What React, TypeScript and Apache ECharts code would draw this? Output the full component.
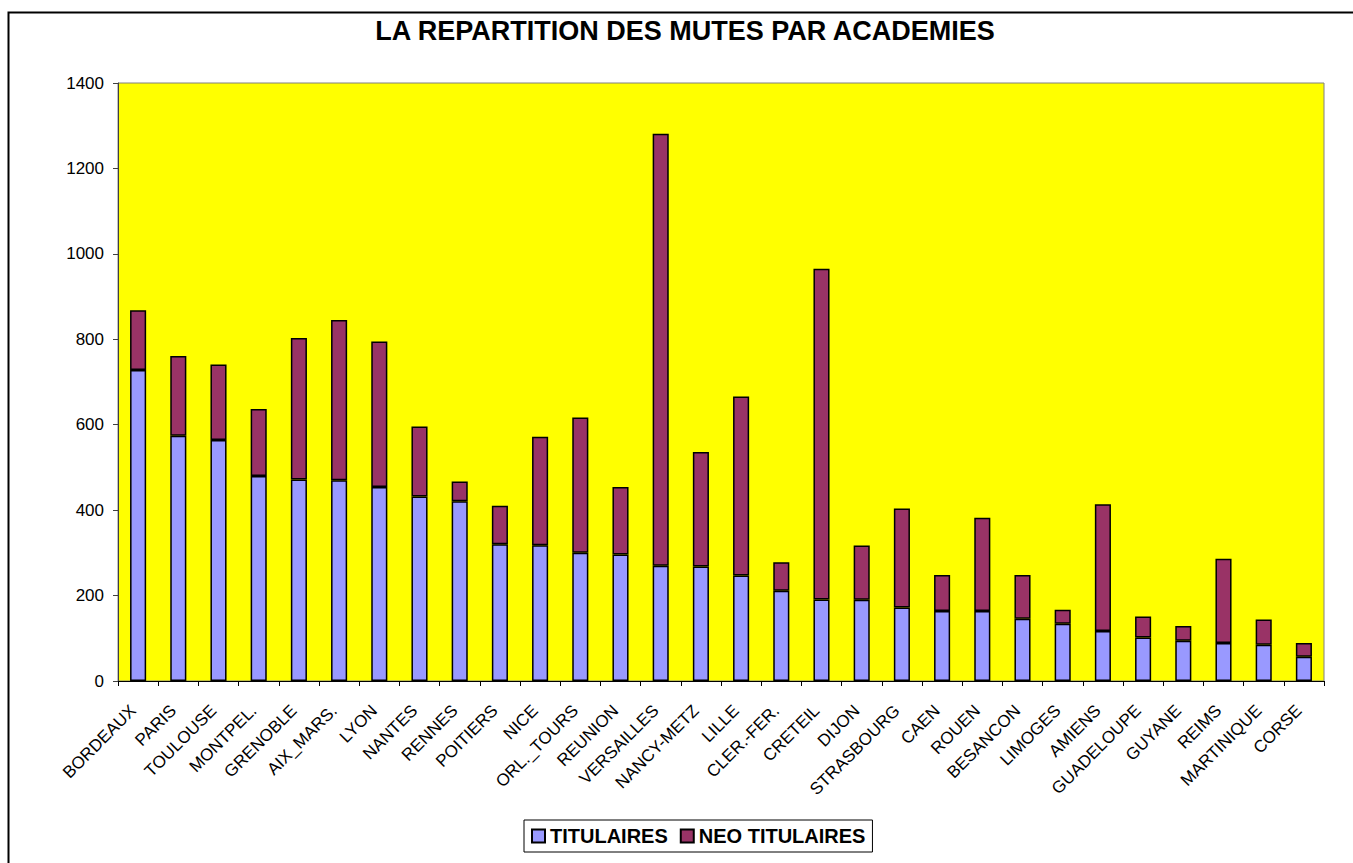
import React, { useEffect, useRef } from "react";
import * as echarts from "echarts";

const categories = [
  "BORDEAUX", "PARIS", "TOULOUSE", "MONTPEL.", "GRENOBLE", "AIX_MARS.", "LYON", "NANTES",
  "RENNES", "POITIERS", "NICE", "ORL._TOURS", "REUNION", "VERSAILLES", "NANCY-METZ", "LILLE",
  "CLER.-FER.", "CRETEIL", "DIJON", "STRASBOURG", "CAEN", "ROUEN", "BESANCON", "LIMOGES",
  "AMIENS", "GUADELOUPE", "GUYANE", "REIMS", "MARTINIQUE", "CORSE",
];

const titulaires = [
  728, 574, 564, 480, 472, 470, 454, 432, 421, 320, 318, 300, 296, 270, 268, 247,
  211, 191, 190, 172, 164, 164, 146, 134, 117, 102, 94, 89, 85, 57,
];

const neoTitulaires = [
  140, 187, 177, 157, 331, 375, 341, 164, 46, 90, 254, 317, 158, 1011, 268, 419,
  67, 774, 127, 232, 84, 218, 102, 33, 297, 49, 35, 197, 59, 32,
];

const seriesNames = ["TITULAIRES", "NEO TITULAIRES"];
const chartTitle = "LA REPARTITION DES MUTES PAR ACADEMIES";

const FONT = "'Liberation Sans', Arial, sans-serif";

export default function App() {
  const ref = useRef<HTMLDivElement>(null);

  useEffect(() => {
    if (!ref.current) return;
    const chart = echarts.init(ref.current, null, { renderer: "svg" });
    chart.setOption({
      animation: false,
      backgroundColor: "#ffffff",
      textStyle: { fontFamily: FONT },
      graphic: [
        {
          type: "rect",
          silent: true,
          shape: { x: 8.5, y: 12.5, width: 1500, height: 1000 },
          style: { fill: "none", stroke: "#000000", lineWidth: 2 },
          z: 100,
        },
        {
          type: "text",
          x: 685,
          y: 31,
          style: {
            text: chartTitle,
            fontFamily: FONT,
            fontSize: 27,
            fontWeight: "bold",
            fill: "#000000",
            textAlign: "center",
            textVerticalAlign: "middle",
          },
        },
      ],
      legend: {
        left: 524,
        top: 820,
        orient: "horizontal",
        icon: "rect",
        itemWidth: 13,
        itemHeight: 13,
        itemGap: 12,
        padding: [6, 7],
        borderColor: "#000000",
        borderWidth: 1,
        backgroundColor: "#ffffff",
        textStyle: { fontFamily: FONT, fontSize: 20, fontWeight: "bold", color: "#000000" },
        data: seriesNames,
      },
      grid: {
        left: 118,
        right: 29,
        top: 83,
        bottom: 182,
        show: true,
        backgroundColor: "#ffff00",
        borderColor: "#808080",
        borderWidth: 1,
      },
      xAxis: {
        type: "category",
        data: categories,
        axisLine: { show: true, lineStyle: { color: "#000000", width: 1 } },
        axisTick: { show: true, length: 5, alignWithLabel: false, lineStyle: { color: "#000000" } },
        axisLabel: {
          interval: 0,
          rotate: 45,
          margin: 22,
          padding: [0, 7, 0, 0],
          fontFamily: FONT,
          fontSize: 17,
          color: "#000000",
        },
        splitLine: { show: false },
      },
      yAxis: {
        type: "value",
        min: 0,
        max: 1400,
        interval: 200,
        axisLine: { show: true, lineStyle: { color: "#404040", width: 1 } },
        axisTick: { show: true, length: 5, lineStyle: { color: "#404040" } },
        axisLabel: {
          margin: 14,
          fontFamily: FONT,
          fontSize: 17,
          color: "#000000",
          formatter: (v: number) => String(v),
        },
        splitLine: { show: false },
      },
      series: [
        {
          name: seriesNames[0],
          type: "bar",
          stack: "total",
          barWidth: "40%",
          data: titulaires,
          itemStyle: { color: "#9999ff", borderColor: "#000000", borderWidth: 1.5 },
        },
        {
          name: seriesNames[1],
          type: "bar",
          stack: "total",
          barWidth: "40%",
          data: neoTitulaires,
          itemStyle: { color: "#993366", borderColor: "#000000", borderWidth: 1.5 },
        },
      ],
    });
    return () => chart.dispose();
  }, []);

  return (
    <div
      ref={ref}
      style={{ position: "fixed", left: 0, top: 0, width: 1353, height: 863 }}
    />
  );
}
